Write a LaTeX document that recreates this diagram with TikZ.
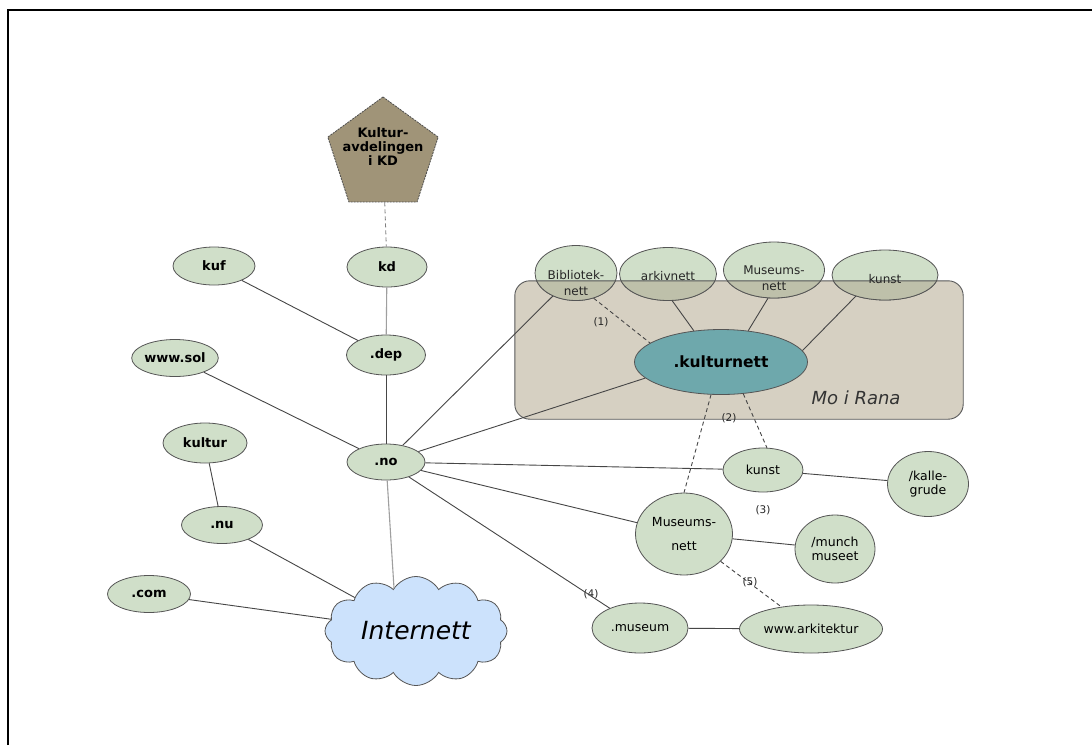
\documentclass[tikz,border=0pt]{standalone}
\usepackage{fontspec}
\setmainfont{DejaVu Sans}
\usetikzlibrary{shapes.geometric,shapes.symbols}
\definecolor{nodegreen}{RGB}{208,223,201}
\definecolor{overlapgreen}{RGB}{190,192,170}
\definecolor{ranafill}{RGB}{214,208,194}
\definecolor{tealfill}{RGB}{110,168,172}
\definecolor{penfill}{RGB}{160,148,120}
\definecolor{cloudfill}{RGB}{204,226,252}
\definecolor{edgecol}{RGB}{70,70,70}
\definecolor{bordercol}{RGB}{85,85,85}
\begin{document}
\begin{tikzpicture}[x=1pt,y=-1pt,
  el/.style={ellipse, draw=bordercol, line width=0.8pt, fill=nodegreen, inner sep=0pt, align=center,
             font=\fontsize{12.5}{14}\selectfont},
  bel/.style={el, font=\fontsize{13}{14}\selectfont\bfseries},
  conn/.style={draw=edgecol, line width=0.9pt},
  lconn/.style={draw=gray!75, line width=1.1pt},
  dconn/.style={draw=edgecol, line width=0.9pt, dash pattern=on 4pt off 3pt},
  lbl/.style={font=\fontsize{10.5}{11}\selectfont, inner sep=1pt, text=black!85},
  toptext/.style={font=\fontsize{12}{16.5}\selectfont, align=center, text=black!85},
]
\useasboundingbox (0,0) rectangle (1092,745);
\fill[white] (0,0) rectangle (1092,745);
% frame
\draw[line width=2pt] (7.7,745) -- (7.7,10.3) -- (1092,10.3);

% Mo i Rana box
\node[rectangle, rounded corners=15pt, fill=ranafill, minimum width=448, minimum height=138, inner sep=0pt] (rana) at (739,350) {};
\node[font=\fontsize{18}{20}\selectfont\itshape, text=black!80] (ranatext) at (856,398) {Mo i Rana};

% top ellipses
\node[el, minimum width=82, minimum height=55] (bib) at (576,273) {};
\node[el, minimum width=97, minimum height=53] (ark) at (668,274) {};
\node[el, minimum width=101, minimum height=56] (mn1) at (774,270) {};
\node[el, minimum width=106, minimum height=50] (kun1) at (885,275) {};
\begin{scope}
  \clip[rounded corners=15pt] (rana.north west) rectangle (rana.south east);
  \path[fill=overlapgreen, draw=bordercol, line width=0.8pt] (bib.center) ellipse [x radius=41, y radius=27.5];
  \path[fill=overlapgreen, draw=bordercol, line width=0.8pt] (ark.center) ellipse [x radius=48.5, y radius=26.5];
  \path[fill=overlapgreen, draw=bordercol, line width=0.8pt] (mn1.center) ellipse [x radius=50.5, y radius=28];
  \path[fill=overlapgreen, draw=bordercol, line width=0.8pt] (kun1.center) ellipse [x radius=53, y radius=25];
\end{scope}
\draw[bordercol, line width=0.9pt, rounded corners=15pt] (rana.north west) rectangle (rana.south east);
\node[toptext] (bibt) at (576,283) {Bibliotek-\\nett};
\node[toptext] (arkt) at (668,276) {arkivnett};
\node[toptext] (mn1t) at (774,278) {Museums-\\nett};
\node[toptext] (kun1t) at (885,279) {kunst};

% central
\node[ellipse, draw=bordercol, line width=0.8pt, fill=tealfill, minimum width=173, minimum height=65, inner sep=0pt,
      font=\fontsize{15.5}{17}\selectfont\bfseries] (kn) at (721,362) {.kulturnett};

% pentagon
\node[regular polygon, regular polygon sides=5, minimum size=116, inner sep=0pt, fill=penfill, draw=black!70,
      line width=0.8pt, dash pattern=on 2pt off 1pt] (pent) at (383,155) {};
\node[align=center, font=\fontsize{13}{14}\selectfont\bfseries] (penttext) at (383,147) {Kultur-\\avdelingen\\i KD};

% left nodes
\node[bel, minimum width=80, minimum height=40] (kd) at (387,267) {kd};
\node[bel, minimum width=82, minimum height=38] (kuf) at (214,266) {kuf};
\node[bel, minimum width=79, minimum height=40] (dep) at (386,355) {.dep};
\node[bel, minimum width=81, minimum height=37] (sol) at (175,358) {www.sol};
\node[bel, minimum width=78, minimum height=36] (no) at (386,462) {.no};
\node[bel, minimum width=84, minimum height=40] (kultur) at (205,443) {kultur};
\node[bel, minimum width=81, minimum height=37] (nu) at (222,525) {.nu};
\node[bel, minimum width=83, minimum height=37] (com) at (149,594) {.com};

% cloud
\node[cloud, cloud puffs=12, cloud puff arc=120, cloud ignores aspect, draw=bordercol, line width=0.8pt, fill=cloudfill,
      minimum width=182, minimum height=109, inner sep=0pt,
      font=\fontsize{25}{27}\selectfont\itshape] (net) at (416,631) {Internett};

% lower right nodes
\node[el, minimum width=80, minimum height=44] (kunst2) at (763,470) {kunst};
\node[el, minimum width=81, minimum height=65] (kalle) at (928,484) {/kalle-\\grude};
\node[el, minimum width=97, minimum height=82, font=\fontsize{12.5}{24}\selectfont] (mn2) at (684,534) {Museums-\\nett};
\node[el, minimum width=80, minimum height=68] (munch) at (835,549) {/munch\\museet};
\node[el, minimum width=96, minimum height=50] (museum) at (640,628) {.museum};
\node[el, minimum width=143, minimum height=48] (ark2) at (811,629) {www.arkitektur};

% labels
\node[lbl] (l1) at (601,322) {(1)};
\node[lbl] (l2) at (729,418) {(2)};
\node[lbl] (l3) at (763,510) {(3)};
\node[lbl] (l4) at (591,594) {(4)};
\node[lbl] (l5) at (750,582) {(5)};

% connectors
\draw[dconn, draw=gray] (pent) -- (kd);
\draw[conn] (kuf) -- (dep);
\draw[lconn] (kd) -- (dep);
\draw[conn] (dep) -- (no);
\draw[conn] (sol) -- (no);
\draw[conn] (kultur) -- (nu);
\draw[conn] (nu) -- (net);
\draw[conn] (com) -- (net);
\draw[lconn] (no) -- (net.117);
\draw[conn] (no) -- (bib);
\draw[conn] (no) -- (kn.192);
\draw[conn] (no) -- (kunst2);
\draw[conn] (no) -- (mn2);
\draw[conn] (no) -- (museum);
\draw[dconn] (bib.305) -- (kn.165);
\draw[conn] (ark.279) -- (kn.131);
\draw[conn] (mn1.258) -- (kn.49);
\draw[conn] (kun1.216) -- (kn.8);
\draw[dconn] (kn.253) -- (mn2.north);
\draw[dconn] (kn.305) -- (kunst2.80);
\draw[conn] (kunst2) -- (kalle);
\draw[conn] (mn2) -- (munch);
\draw[dconn] (mn2) -- (ark2);
\draw[conn] (museum) -- (ark2);
\end{tikzpicture}
\end{document}
